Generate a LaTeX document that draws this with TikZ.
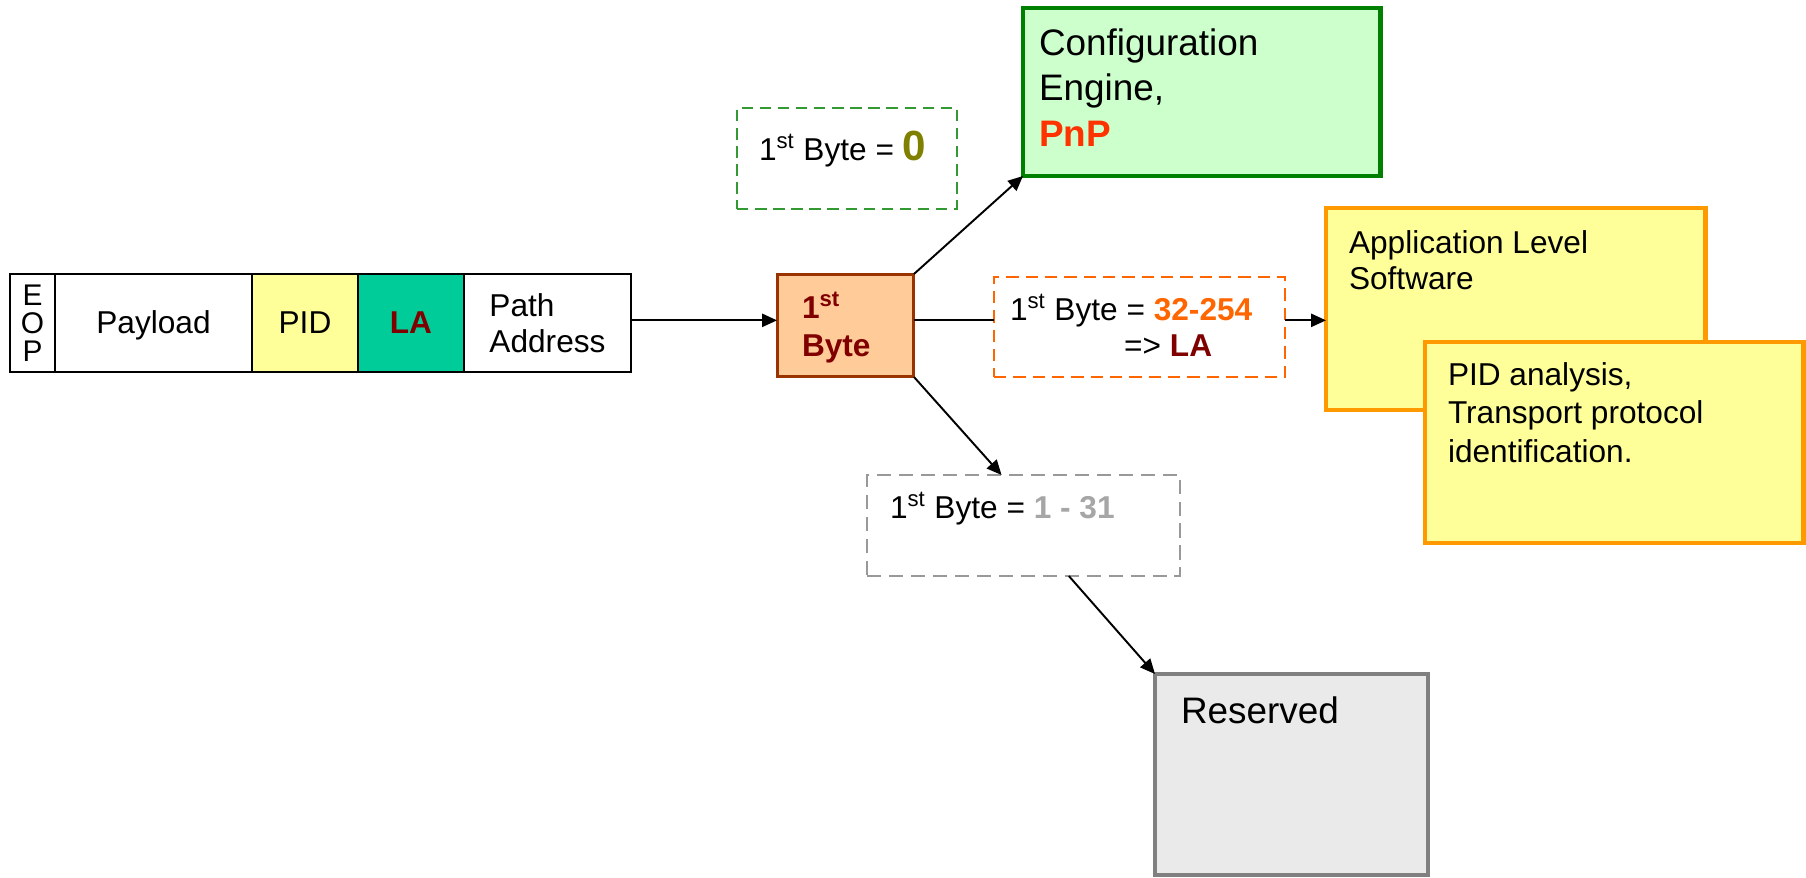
\documentclass[tikz,border=0pt]{standalone}
\usepackage{fontspec}
\setmainfont{Liberation Sans}
\usetikzlibrary{arrows.meta,calc}
\definecolor{cfgfill}{HTML}{CCFFCC}
\definecolor{cfgline}{HTML}{008000}
\definecolor{pnpred}{HTML}{FF3300}
\definecolor{gdash}{HTML}{339933}
\definecolor{olivezero}{HTML}{808000}
\definecolor{fbfill}{HTML}{FFCC99}
\definecolor{fbline}{HTML}{993300}
\definecolor{darkred}{HTML}{800000}
\definecolor{odash}{HTML}{FF6600}
\definecolor{yfill}{HTML}{FFFF99}
\definecolor{yline}{HTML}{FF9900}
\definecolor{graydash}{HTML}{999999}
\definecolor{graytext}{HTML}{A6A6A6}
\definecolor{rsfill}{HTML}{EAEAEA}
\definecolor{rsline}{HTML}{808080}
\definecolor{lafill}{HTML}{00CC99}
\begin{document}
\begin{tikzpicture}[x=0.02cm,y=-0.02cm,
  every node/.style={inner sep=0pt, outer sep=0pt},
  box/.style={anchor=north west, inner sep=0pt, outer sep=0pt},
  cellbox/.style={box, draw=black, line width=1pt, minimum height=1.96cm},
  cell/.style={cellbox, text height=13pt, text depth=1pt, font=\fontsize{18}{21}\selectfont},
  solidbox/.style={box, line width=2.8pt},
  dashbox/.style={box, line width=1.1pt, dash pattern=on 6.5pt off 3.8pt},
  lbl/.style={anchor=base west, font=\fontsize{18}{21}\selectfont},
  arr/.style={line width=1.1pt, -{Triangle[length=8.5pt,width=7.5pt]}},
  conn/.style={line width=1.1pt}
]
\useasboundingbox (0,0) rectangle (1806,877);

% packet
\node[cellbox, minimum width=0.9cm, align=center, font=\fontsize{17}{16}\selectfont] (eop) at (10,274) {E\\O\\P};
\node[cell, minimum width=3.94cm] (pl) at (55,274) {Payload};
\node[cell, fill=yfill, minimum width=2.12cm] (pid) at (252,274) {PID};
\node[cell, fill=lafill, minimum width=2.12cm, font=\fontsize{18}{21}\selectfont\bfseries, text=darkred] (la) at (358,274) {LA};
\node[cellbox, minimum width=3.34cm, align=left, font=\fontsize{18}{20.4}\selectfont] (pa) at (464,274) {Path\\Address};

% first byte
\node[box, draw=fbline, fill=fbfill, line width=1.7pt, minimum width=2.74cm, minimum height=2.06cm] (fb) at (777,274) {};
\node[lbl, font=\fontsize{18}{22}\selectfont\bfseries, text=darkred] (fbt) at (802,318) {\vtop{\hbox{1\textsuperscript{st}}\hbox{Byte}}};

% condition boxes
\node[dashbox, draw=gdash, minimum width=4.4cm, minimum height=2.02cm] (gd) at (737,108) {};
\node[lbl] (gdt) at (759,160) {1\textsuperscript{st} Byte = {\fontsize{24}{24}\selectfont\bfseries\color{olivezero}0}};

\node[dashbox, draw=odash, minimum width=5.82cm, minimum height=2.0cm, dash pattern=on 7pt off 4pt] (ob) at (994,277) {};
\node[lbl] (obt) at (1010,320) {\vtop{\hbox{1\textsuperscript{st} Byte = \textbf{\color{odash}32-254}}\hbox{\hspace{65pt}=> \textbf{\color{darkred}LA}}}};

\node[dashbox, draw=graydash, minimum width=6.26cm, minimum height=2.02cm, dash pattern=on 8pt off 4.5pt] (gb) at (867,475) {};
\node[lbl] (gbt) at (890,518) {1\textsuperscript{st} Byte = \textbf{\color{graytext}1 - 31}};

% target boxes
\node[solidbox, draw=cfgline, fill=cfgfill, minimum width=7.16cm, minimum height=3.36cm] (cfg) at (1023,8) {};
\node[lbl, font=\fontsize{21}{26}\selectfont] (cfgt) at (1039,55) {\vtop{\hbox{Configuration}\hbox{Engine,}\hbox{\bfseries\color{pnpred}PnP}}};

\node[solidbox, draw=yline, fill=yfill, minimum width=7.6cm, minimum height=4.04cm] (app) at (1326,208) {};
\node[lbl] (appt) at (1349,253) {\vtop{\hbox{Application Level}\hbox{Software}}};

\node[solidbox, draw=yline, fill=yfill, minimum width=7.58cm, minimum height=4.02cm] (pidb) at (1425,342) {};
\node[lbl, font=\fontsize{18}{22}\selectfont] (pidt) at (1448,385) {\vtop{\hbox{PID analysis,}\hbox{Transport protocol}\hbox{identification.}}};

\node[solidbox, draw=rsline, fill=rsfill, minimum width=5.46cm, minimum height=4.02cm] (rs) at (1155,674) {};
\node[lbl, font=\fontsize{21}{26}\selectfont] (rst) at (1181,723) {Reserved};

% connectors
\coordinate (fbw) at ($(fb.north west)!0.45!(fb.south west)$);
\coordinate (fbe) at ($(fb.north east)!0.45!(fb.south east)$);
\draw[arr] (fbw -| pa.east) -- (fbw);
\draw[arr] (fb.north east) -- (cfg.south west);
\draw[conn] (fbe) -- (fbe -| ob.west);
\draw[arr] (fbe -| ob.east) -- (fbe -| app.west);
\draw[arr] (fb.south east) -- ($(gb.north west)!0.43!(gb.north east)$);
\draw[arr] ($(gb.south west)!0.645!(gb.south east)$) -- (rs.north west);
\end{tikzpicture}
\end{document}
